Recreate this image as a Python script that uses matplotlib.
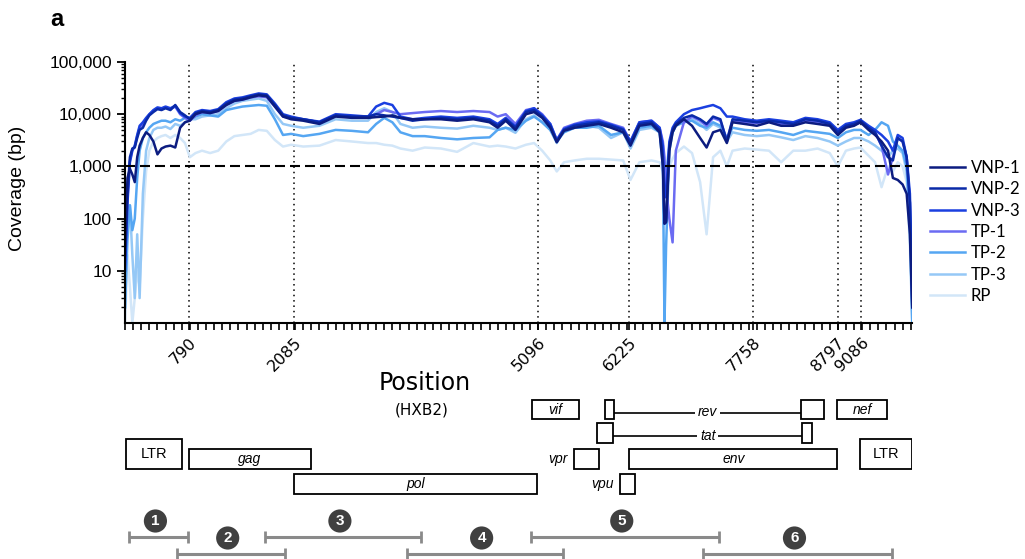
import numpy as np
import matplotlib
matplotlib.use('Agg')
import matplotlib.pyplot as plt
from matplotlib.patches import Rectangle
from matplotlib.ticker import MultipleLocator, LogLocator, NullFormatter

plt.rcParams['font.family'] = ['Liberation Sans', 'DejaVu Sans']

pos = [0, 30, 60, 90, 120, 150, 180, 220, 260, 300,
       350, 400, 450, 500, 560, 620, 680, 740, 800, 870,
       950, 1050, 1150, 1250, 1350, 1450, 1550, 1650, 1750, 1850,
       1950, 2050, 2200, 2400, 2600, 2800, 3000, 3100, 3200, 3300,
       3400, 3550, 3700, 3900, 4100, 4300, 4500, 4600, 4700, 4820,
       4950, 5050, 5150, 5250, 5330, 5420, 5550, 5700, 5850, 6000,
       6150, 6240, 6350, 6500, 6600, 6640, 6660, 6680, 6720, 6760,
       6800, 6900, 7000, 7100, 7180, 7260, 7350, 7430, 7500, 7650,
       7800, 7950, 8100, 8250, 8400, 8550, 8700, 8800, 8900, 9000,
       9080, 9180, 9260, 9340, 9420, 9480, 9540, 9600, 9650, 9690,
       9719]

vnp1 = [30, 600, 900, 700, 500, 1500, 2500, 3500, 4500, 4000,
        3000, 1700, 2200, 2400, 2500, 2300, 5500, 7000, 7500, 10000,
        11000, 10500, 11500, 15000, 18000, 19000, 21000, 23000, 22000, 14000,
        9000, 8000, 7500, 6500, 9000, 8500, 8500, 8800, 9000, 9500,
        8500, 8000, 8000, 8000, 7500, 8000, 7000, 5500, 7500, 5000,
        10000, 11000, 8500, 5500, 2900, 4800, 5500, 6000, 6500, 5500,
        4500, 2500, 6000, 6500, 4500, 1000, 80, 85, 2000, 4500,
        6000, 8000, 6000, 3500, 2300, 4500, 5000, 2800, 7000, 6500,
        6000, 7000, 6000, 6000, 7000, 6500, 6000, 4000, 5500, 6000,
        7000, 5000, 4000, 3000, 2000, 600, 550, 450, 300, 50,
        2]
vnp2 = [20, 300, 1500, 2200, 2300, 3500, 5000, 5500, 7500, 9500,
        11000, 12500, 12000, 13000, 12000, 15000, 11000, 9500, 8000, 10500,
        11500, 11000, 12000, 16000, 19000, 20000, 22000, 24000, 23000, 15000,
        9500, 8500, 8000, 7000, 9500, 9000, 9000, 10000, 9500, 9000,
        8500, 7500, 8000, 8500, 8000, 8500, 7500, 6000, 8000, 5500,
        11000, 12000, 9000, 6000, 3000, 5000, 6000, 6500, 7000, 6000,
        5000, 2800, 6500, 7000, 5000, 1500, 80, 90, 2500, 5000,
        6500, 8500, 9500, 8000, 6500, 9000, 8000, 3000, 8000, 7500,
        7000, 7500, 7000, 6500, 8000, 7500, 6500, 4500, 6000, 6500,
        7500, 5500, 4500, 2500, 1500, 1300, 3500, 3000, 1500, 200,
        2]
vnp3 = [10, 200, 1200, 2000, 2500, 4000, 6000, 7000, 8500, 10000,
        12000, 13500, 13000, 14000, 13000, 14500, 10500, 9000, 8500, 11000,
        12000, 11500, 12500, 17000, 20000, 21000, 23000, 25000, 24000, 16000,
        10000, 9000, 8000, 7200, 10000, 9500, 9000, 14000, 16500, 15000,
        9000, 8000, 8500, 9000, 8500, 9000, 8000, 6500, 8500, 5800,
        11500, 13000, 9500, 6500, 3200, 5200, 6300, 7000, 7300, 6300,
        5200, 3000, 7000, 7500, 5500, 2500, 250, 300, 3000, 5500,
        7000, 10000, 12000, 13000, 14000, 15000, 13000, 9000, 9000, 8000,
        7500, 8000, 7500, 7000, 8500, 8000, 7000, 5000, 6500, 7000,
        7800, 6000, 5000, 4000, 3000, 2000, 4000, 3500, 1500, 300,
        5]
tp1 = [15, 250, 1300, 2100, 2400, 3800, 5500, 6500, 8000, 10000,
       11500, 13000, 12500, 13500, 12500, 14000, 10000, 8500, 7500, 9500,
       11000, 10500, 11500, 15000, 18000, 19000, 21000, 22000, 21000, 14000,
       9000, 8500, 8000, 7000, 9500, 9000, 9000, 10000, 12000, 11000,
       10000, 10500, 11000, 11500, 11000, 11500, 11000, 9000, 10000, 6500,
       12000, 13000, 10000, 6500, 3200, 5500, 6500, 7500, 7800, 6500,
       5500, 3000, 7000, 7500, 5500, 3000, 1500, 400, 100, 35,
       2000, 7000, 9000, 7500, 6000, 8500, 7500, 3200, 7500, 7000,
       6800, 7200, 6500, 6200, 7500, 7000, 6300, 4200, 5800, 6300,
       7000, 5500, 4500, 2500, 700, 1500, 3500, 3000, 1500, 200,
       3]
tp2 = [2, 40, 180, 60, 100, 600, 2000, 3500, 4500, 5500,
       6500, 7000, 7500, 7500, 7000, 8000, 7500, 8500, 8000, 9000,
       10000, 9500, 9000, 12000, 13000, 14000, 14500, 15000, 14500, 8000,
       4000, 4200, 3800, 4200, 5000, 4800, 4500, 6500, 8500, 7000,
       4500, 3800, 3800, 3500, 3300, 3500, 3600, 5000, 5500, 5000,
       7500, 9000, 7000, 5000, 3000, 4500, 5500, 5500, 6000, 4000,
       4500, 2500, 5500, 6000, 4500, 1000, 1, 30, 2000, 4500,
       6000, 7000, 7500, 6000, 5500, 7000, 6000, 3500, 5500, 5000,
       4800, 5000, 4500, 4000, 4800, 4500, 4200, 3500, 4500, 5000,
       5000, 4000, 5000, 7000, 6000, 3000, 2500, 2000, 1000, 100,
       1]
tp3 = [2, 150, 180, 20, 3, 50, 3, 300, 2000, 3500,
       5000, 5500, 5500, 5800, 5200, 6500, 6000, 7000, 8000, 8000,
       9000, 9500, 10000, 13000, 16000, 18000, 19000, 20000, 18000, 10000,
       6500, 6000, 5500, 6000, 8000, 7500, 7500, 11000, 13000, 11000,
       6500, 5500, 5800, 5500, 5300, 6000, 5500, 5000, 5500, 4400,
       8000, 9500, 7000, 5000, 2800, 5000, 5500, 6000, 5500, 3500,
       4500, 2200, 5000, 5500, 4500, 1500, 600, 800, 2500, 4500,
       6000, 7500, 8000, 6500, 5000, 6500, 5500, 3000, 4500, 4000,
       3800, 4000, 3600, 3200, 3800, 3500, 3000, 2500, 3000, 3500,
       3500, 3000, 2500, 2000, 1500, 2000, 2200, 1800, 800, 50,
       1]
rp = [1, 20, 5, 1, 3, 10, 5, 100, 800, 2000,
      3000, 3500, 3800, 4000, 3500, 4000, 3500, 2800, 1500, 1800,
      2000, 1800, 2000, 3000, 3800, 4000, 4200, 5000, 4800, 3200,
      2400, 2600, 2400, 2500, 3200, 3000, 2800, 2800, 2600, 2500,
      2200, 2000, 2300, 2200, 1900, 2800, 2400, 2500, 2400, 2200,
      2600, 2800, 2000, 1300, 800, 1200, 1300, 1400, 1400, 1350,
      1300, 550, 1200, 1300, 1200, 800, 400, 700, 1000, 1400,
      1800, 2400, 1800, 500, 50, 1500, 2000, 1000, 2000, 2200,
      2100, 2000, 1200, 2000, 2000, 2200, 1800, 1000, 2000, 2200,
      2300, 1600, 1200, 400, 1000, 800, 1200, 1000, 500, 30,
      1]

names = ['VNP-1', 'VNP-2', 'VNP-3', 'TP-1', 'TP-2', 'TP-3', 'RP']
data = [vnp1, vnp2, vnp3, tp1, tp2, tp3, rp]
colors = ['#0c1c80', '#0a2aa8', '#1a3fe0', '#6b6bf2', '#55a6f2', '#95c8f6', '#d2e6f8']

marks = [790, 2085, 5096, 6225, 7758, 8797, 9086]
genome_len = 9719
ytick_vals = [10, 100, 1000, 10000, 100000]
ytick_labels = ['10', '100', '1,000', '10,000', '100,000']

# gene map (HXB2 coordinates as drawn)
gene_names = ['LTR', 'gag', 'pol', 'vif', 'vpr', 'vpu', 'env', 'nef', 'LTR']
gene_start = [10, 790, 2085, 5030, 5545, 6110, 6225, 8790, 9080]
gene_end = [705, 2290, 5080, 5600, 5850, 6290, 8795, 9410, 9719]
gene_row = [2, 3, 4, 0, 3, 4, 3, 0, 2]
spliced = {'rev': [(5920, 6040), (8350, 8630)],
           'tat': [(5830, 6030), (8360, 8480)]}
spliced_row = {'rev': 0, 'tat': 1}

amp_start = [50, 640, 1730, 3480, 5010, 7140]
amp_end = [780, 1975, 3655, 5405, 7335, 9470]

fig = plt.figure(figsize=(10.25, 5.59), dpi=100)
ax = fig.add_axes([0.122, 0.4222, 0.768, 0.4669])

handles = []
for name, vals, col in zip(names[::-1], data[::-1], colors[::-1]):
    l, = ax.plot(pos, vals, color=col, lw=1.8, label=name, solid_joinstyle='round')
    handles.append(l)
handles = handles[::-1]

ax.set_yscale('log')
ax.set_ylim(1, 1e5)
ax.set_xlim(0, genome_len)
for m in marks:
    ax.axvline(m, color='k', ls=(0, (1, 2.5)), lw=1.1, zorder=0.5)
ax.axhline(1000, color='k', ls=(0, (4.8, 2.4)), lw=1.5, zorder=3)

for s in ['top', 'right']:
    ax.spines[s].set_visible(False)
for s in ['left', 'bottom']:
    ax.spines[s].set_linewidth(1.5)

ax.set_yticks(ytick_vals)
ax.set_yticklabels(ytick_labels, fontsize=12.5)
ax.yaxis.set_minor_locator(LogLocator(base=10, subs=np.arange(2, 10)))
ax.yaxis.set_minor_formatter(NullFormatter())
ax.tick_params(axis='y', which='major', length=6, width=1.3, direction='out')
ax.tick_params(axis='y', which='minor', length=3, width=1.0, direction='out')

ax.set_xticks(marks)
ax.set_xticklabels([str(m) for m in marks], rotation=45, ha='right',
                   rotation_mode='anchor', fontsize=11.5, family='DejaVu Sans')
ax.xaxis.set_minor_locator(MultipleLocator(100))
ax.tick_params(axis='x', which='both', length=5, width=1.2, direction='out')

fig.text(18 / 1025, 1 - 188 / 559, 'Coverage (bp)', rotation=90,
         ha='center', va='center', fontsize=14)
fig.text(57 / 1025, 1 - 20 / 559, 'a', fontsize=17, fontweight='bold',
         ha='center', va='center')
fig.text(425 / 1025, 1 - 383 / 559, 'Position', fontsize=17,
         ha='center', va='center', family='DejaVu Sans')
fig.text(422 / 1025, 1 - 410 / 559, '(HXB2)', fontsize=11,
         ha='center', va='center', family='DejaVu Sans')

fig.legend(handles, names, loc='upper left',
           bbox_to_anchor=(930 / 1025, 1 - 160 / 559), frameon=False,
           handlelength=2.1, handletextpad=0.35,
           labelspacing=0.32, borderpad=0, borderaxespad=0,
           prop={'family': 'Lato', 'size': 12})

# lower panel: gene map in pixel rows
ax2 = fig.add_axes([0.122, 0, 0.768, 1], facecolor='none')
ax2.set_xlim(0, genome_len)
ax2.set_ylim(559, 0)
ax2.axis('off')

row_y = [(400, 419), (423, 443), (439, 469), (449, 469), (474, 494)]

for g, s, e, r in zip(gene_names, gene_start, gene_end, gene_row):
    y0, y1 = row_y[r]
    ax2.add_patch(Rectangle((s, y0), e - s, y1 - y0, fc='white', ec='black', lw=1.3))
    style = 'normal' if g == 'LTR' else 'italic'
    if g in ('vpr', 'vpu'):
        ax2.text(s - 80, (y0 + y1) / 2, g, ha='right', va='center',
                 fontsize=10, style=style)
    else:
        ax2.text((s + e) / 2, (y0 + y1) / 2, g, ha='center', va='center',
                 fontsize=10.5 if g == 'LTR' else 10, style=style)

for g, exons in spliced.items():
    y0, y1 = row_y[spliced_row[g]]
    ym = (y0 + y1) / 2 + 3
    (a0, a1), (b0, b1) = exons
    ax2.plot([a1, b0], [ym, ym], color='black', lw=1.2, zorder=1)
    for s, e in exons:
        ax2.add_patch(Rectangle((s, y0), e - s, y1 - y0, fc='white', ec='black',
                                lw=1.3, zorder=2))
    ax2.text((a1 + b0) / 2, ym, g, ha='center', va='center', fontsize=10,
             style='italic', bbox=dict(fc='white', ec='none', pad=2), zorder=3)

for i, (s, e) in enumerate(zip(amp_start, amp_end)):
    y = 537 if i % 2 == 0 else 554
    ax2.plot([s, e], [y, y], color='#8a8a8a', lw=2.2, solid_capstyle='butt')
    ax2.plot([s, e], [y, y], ls='none', marker='|', ms=8, mew=2, color='#8a8a8a')
    ax2.text((s + e) / 2 - 40, y - 16, str(i + 1), ha='center', va='center',
             color='white', fontweight='bold', fontsize=11,
             bbox=dict(boxstyle='circle,pad=0.3', fc='#404040', ec='none'))

fig.savefig('out.png', dpi=100)
